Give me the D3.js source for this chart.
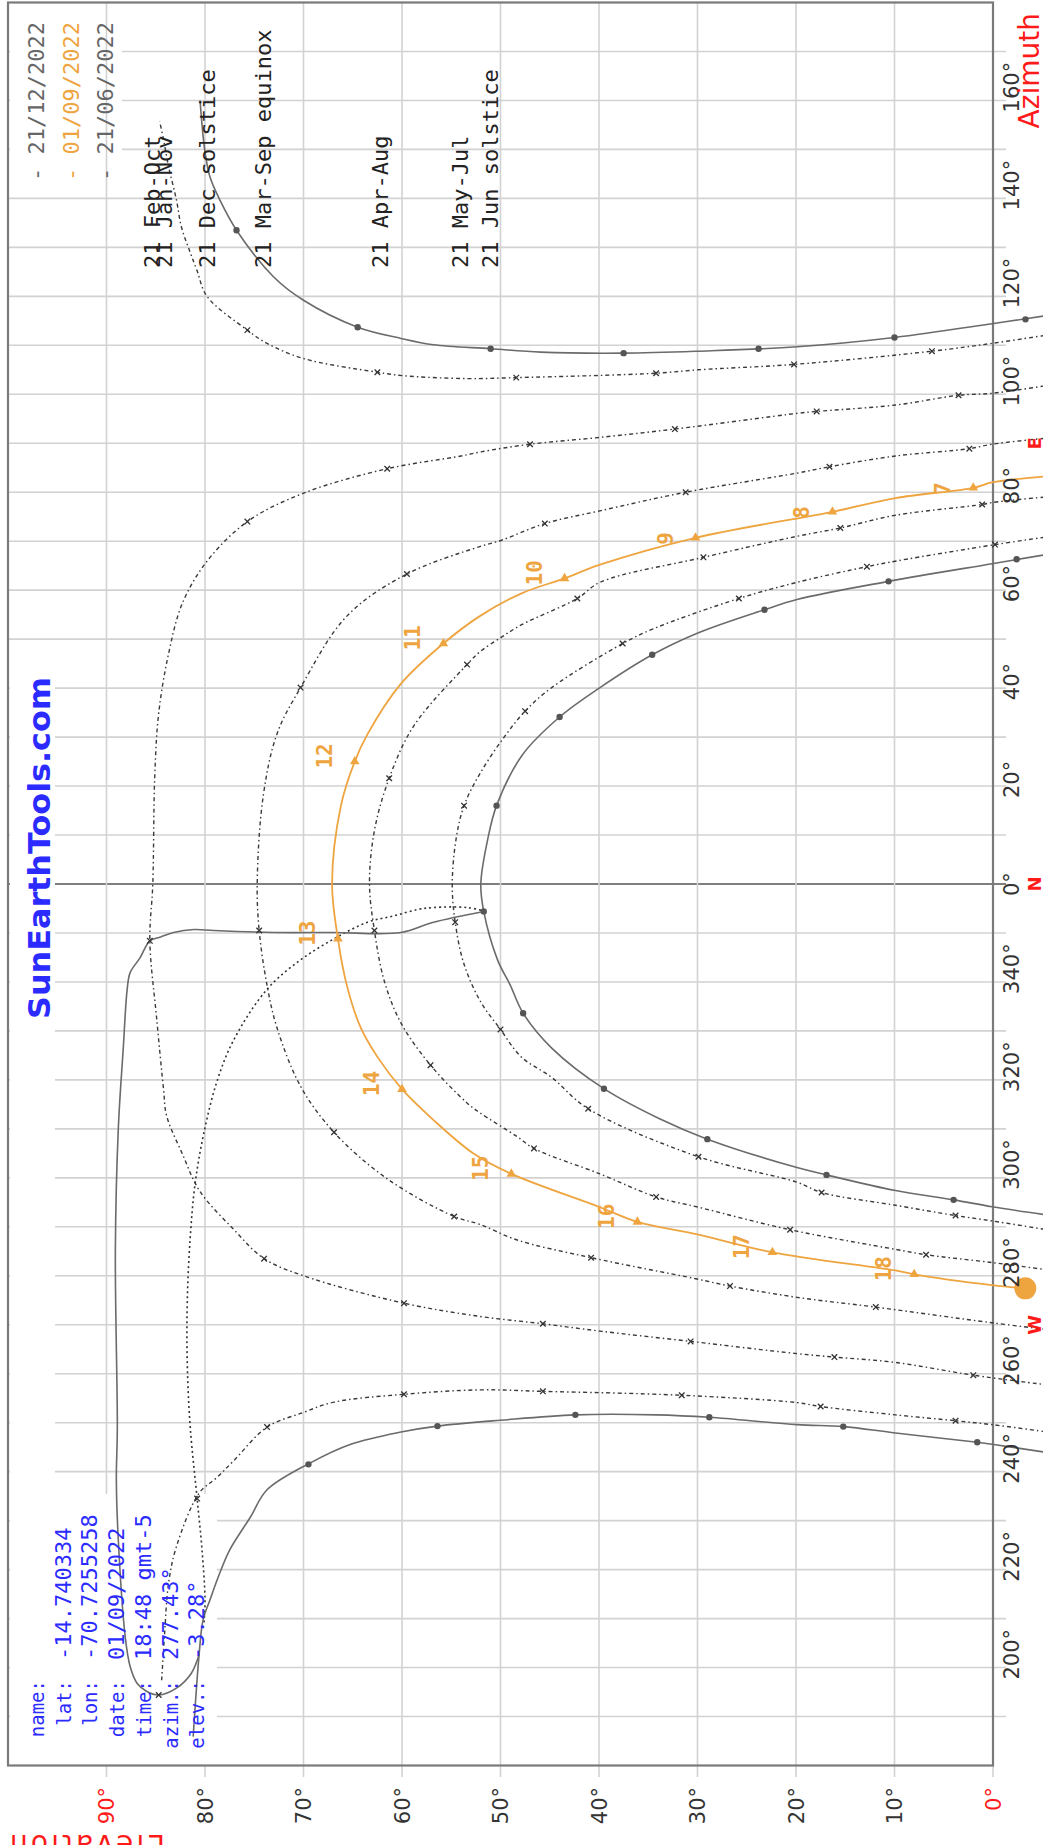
<!DOCTYPE html>
<html>
<head>
<meta charset="utf-8">
<script src="https://cdn.jsdelivr.net/npm/d3@7"></script>
<style>
  html, body { margin: 0; padding: 0; background: #fff; overflow: hidden; }
  svg { display: block; }
</style>
</head>
<body>
<svg id="chart" width="1043" height="1845"></svg>
<script>
// sun paths as [azimuth, elevation] in degrees
const decMorning = [[116.0,-5.2],[114.4,0.1],[111.6,10.0],[109.7,19.9],[108.8,29.9],[108.4,37.5],[108.6,45.9],[109.3,51.0],[110.1,56.8],[111.4,60.1],[113.7,64.5],[119.2,70.0],[123.9,73.0],[133.5,76.8],[139.7,78.5],[144.4,79.5],[149.5,80.0],[155.0,80.3],[160.0,80.5]];
const decAfternoon = [[185.9,81.2],[202.6,80.6],[209.7,80.2],[213.8,79.5],[219.3,78.5],[224.0,77.5],[230.7,75.4],[236.3,73.7],[241.8,69.3],[245.6,65.2],[248.1,60.1],[249.3,56.4],[250.5,50.0],[251.6,42.4],[251.6,34.2],[251.1,28.8],[249.6,19.9],[249.2,15.2],[247.9,9.9],[246.0,1.6],[245.6,0.1],[244.0,-5.2]];
const janMorning = [[112.0,-5.2],[110.4,0.1],[108.8,6.2],[106.1,20.2],[105.0,29.9],[104.3,34.2],[103.4,48.4],[103.2,53.4],[103.8,59.9],[104.5,62.5],[107.3,70.0],[110.4,73.7],[113.1,75.7],[120.0,79.8],[125.2,80.8],[129.5,81.6],[134.2,82.4],[139.7,82.9],[146.5,83.7],[151.9,84.2],[155.7,84.6]];
const janAfternoon = [[197.4,84.4],[207.0,84.1],[217.2,83.7],[224.7,82.9],[235.6,80.6],[238.8,78.8],[242.2,77.1],[249.1,73.7],[252.1,70.0],[254.2,66.9],[255.8,59.8],[256.7,52.1],[256.4,45.7],[255.6,31.6],[254.1,19.9],[253.3,17.5],[251.6,9.9],[250.4,3.8],[249.6,0.1],[248.2,-5.2]];
const febPath = [[101.7,-5.2],[100.2,0.1],[99.8,3.5],[97.8,9.9],[96.5,17.9],[96.1,19.9],[92.9,32.3],[91.2,39.9],[89.8,47.0],[88.2,52.1],[87.4,54.0],[84.8,61.5],[79.8,70.0],[74.0,75.7],[65.9,79.8],[57.3,82.3],[47.0,83.7],[34.9,84.7],[22.1,85.1],[0,85.3],[348.4,85.6],[332.4,84.9],[317.9,84.2],[312.7,83.9],[304.9,82.3],[297.2,80.5],[289.5,77.1],[283.5,74.0],[280.0,70.0],[274.4,59.8],[271.7,52.1],[270.2,45.7],[268.7,39.9],[266.6,30.7],[264.1,19.9],[263.4,16.1],[262.3,9.9],[259.7,2.0],[257.8,-5.2]];
const marPath = [[91.0,-5.2],[89.8,0.1],[88.9,2.4],[87.4,9.9],[85.2,16.6],[83.9,19.9],[80.0,31.2],[76.2,39.9],[73.6,45.5],[70.2,49.9],[68.9,52.1],[63.3,59.5],[54.7,65.6],[40.1,70.3],[30.6,72.7],[17.8,74.1],[0,74.7],[350.5,74.5],[339.3,73.7],[330.7,72.7],[318.7,70.3],[309.3,66.9],[299.8,61.5],[292.1,54.7],[290.5,52.1],[287.3,48.3],[283.7,40.8],[279.4,30.2],[277.9,26.7],[275.6,19.9],[273.6,11.9],[270.4,0.1],[269.1,-5.2]];
const aprPath = [[79.0,-5.2],[77.9,0.1],[77.5,1.1],[75.3,9.9],[72.7,15.5],[71.0,19.9],[66.7,29.4],[61.6,39.9],[58.3,42.2],[53.0,47.8],[50.4,49.9],[47.4,52.1],[44.8,53.4],[32.3,58.8],[21.6,61.3],[10.9,62.8],[0,63.3],[350.5,62.8],[340.2,61.8],[331.6,60.1],[323.0,57.1],[315.3,53.4],[313.3,52.1],[308.4,48.3],[306.0,46.6],[300.8,39.9],[296.1,34.2],[294.0,29.9],[289.4,20.6],[285.4,9.9],[284.3,6.8],[282.7,0.1],[281.3,-5.2]];
const mayPath = [[70.8,-5.2],[69.3,-0.2],[66.0,9.7],[64.8,12.8],[61.6,19.9],[58.3,25.8],[52.1,34.5],[49.1,37.6],[40.1,44.8],[35.3,47.5],[29.8,49.7],[22.5,52.1],[16.0,53.7],[9.3,54.5],[0,54.9],[352.2,54.6],[343.6,53.7],[335.9,52.0],[330.3,50.0],[324.7,47.9],[320.5,44.8],[314.1,41.1],[304.3,29.9],[299.1,19.9],[297.0,17.4],[294.4,9.9],[292.3,3.8],[291.2,0.1],[289.5,-5.2]];
const junPath = [[67.2,-5.2],[65.4,0.1],[61.8,10.6],[58.1,19.9],[56.0,23.2],[51.3,29.9],[46.8,34.6],[40.1,39.9],[34.1,44.0],[26.3,47.8],[16.0,50.4],[9.1,51.3],[0,52.0],[354.4,51.7],[344.5,50.3],[339.3,49.0],[333.6,47.7],[326.5,44.8],[318.2,39.5],[312.0,33.8],[307.9,29.0],[302.1,19.9],[300.6,16.9],[297.4,9.9],[295.5,4.0],[294.1,0.1],[292.5,-5.2]];
const sepPath = [[83.2,-5.2],[82.0,0.1],[80.9,2.0],[78.8,9.9],[76.0,16.3],[70.7,30.2],[65.2,39.9],[62.4,43.5],[59.4,47.8],[54.7,52.1],[49.1,55.8],[40.9,60.1],[30.6,63.5],[25.0,64.8],[16.0,66.2],[0,67.1],[348.8,66.5],[339.3,65.6],[330.7,64.2],[324.7,62.5],[318.1,60.0],[311.8,56.8],[304.9,52.7],[300.8,48.9],[294.0,39.9],[291.0,36.1],[288.4,29.9],[284.8,22.4],[281.1,9.9],[280.3,8.0],[278.1,0.1],[277.43,-3.28]];

// the 13:00 analemma, first half of the year solid, second half dotted
const analemmaSolid = [[354.4,51.7],[352.2,56.8],[350.1,60.1],[350.1,66.9],[350.1,73.0],[350.5,79.1],[350.7,81.1],[350.1,83.2],[349.2,84.5],[348.4,85.6],[344.9,86.6],[341.9,87.6],[338.5,87.9],[326.4,88.3],[310.1,88.8],[285.2,89.1],[249.1,88.9],[238.3,89.0],[226.0,88.8],[206.3,88.1],[200.2,87.6],[196.8,86.9],[195.1,85.9],[194.4,84.7],[195.8,82.9],[198.8,81.4],[202.6,80.6]];
const analemmaDotted = [[354.4,51.5],[355.2,53.4],[355.2,56.8],[354.8,58.4],[353.5,60.8],[352.2,63.5],[348.8,66.9],[344.5,70.3],[338.5,73.7],[328.1,77.1],[319.6,78.8],[309.3,80.1],[298.9,81.0],[287.8,81.5],[274.8,81.8],[262.0,81.8],[249.1,81.5],[234.5,80.8],[224.0,80.3],[213.8,80.0],[209.1,80.1]];

// hourly marks on the paths, [azimuth, elevation]
const decMarks = [[115.3,-3.3],[111.6,10.0],[109.3,23.8],[108.4,37.5],[109.3,51.0],[113.7,64.5],[133.5,76.8],[241.5,69.5],[249.3,56.4],[251.6,42.4],[251.1,28.8],[249.2,15.2],[246.0,1.6]];
const junMarks = [[66.3,-2.4],[61.8,10.6],[56.0,23.2],[46.8,34.6],[34.1,44.0],[16.0,50.4],[354.4,51.7],[333.6,47.7],[318.2,39.5],[307.9,29.0],[300.6,16.9],[295.5,4.0]];
const janMarks = [[108.8,6.2],[106.1,20.2],[104.3,34.2],[103.4,48.4],[104.5,62.5],[113.1,75.7],[194.4,84.7],[234.5,80.8],[249.1,73.7],[255.8,59.8],[256.4,45.7],[255.6,31.6],[253.3,17.5],[250.4,3.8]];
const febMarks = [[99.8,3.5],[96.5,17.9],[92.9,32.3],[89.8,47.0],[84.8,61.5],[74.0,75.7],[348.4,85.6],[283.5,74.0],[274.4,59.8],[270.2,45.7],[266.6,30.7],[263.4,16.1],[259.7,2.0]];
const marMarks = [[88.9,2.4],[85.2,16.6],[80.0,31.2],[73.6,45.5],[63.3,59.5],[40.1,70.3],[350.5,74.5],[309.3,66.9],[292.1,54.7],[283.7,40.8],[277.9,26.7],[273.6,11.9]];
const aprMarks = [[77.5,1.1],[72.7,15.5],[66.7,29.4],[58.3,42.2],[44.8,53.4],[21.6,61.3],[350.5,62.8],[323.0,57.1],[306.0,46.6],[296.1,34.2],[289.4,20.6],[284.3,6.8]];
const mayMarks = [[69.3,-0.2],[64.8,12.8],[58.3,25.8],[49.1,37.6],[35.3,47.5],[16.0,53.7],[352.2,54.6],[330.3,50.0],[314.1,41.1],[304.3,29.9],[297.0,17.4],[292.3,3.8]];
// selected day: [hour, azimuth, elevation]
const sepMarks = [[7,80.9,2.0],[8,76.0,16.3],[9,70.7,30.2],[10,62.4,43.5],[11,49.1,55.8],[12,25.0,64.8],[13,348.8,66.5],[14,318.1,60.0],[15,300.8,48.9],[16,291.0,36.1],[17,284.8,22.4],[18,280.3,8.0]];
const sunNow = [277.43, -3.28];

// axes and texts
const azTicks = [200, 220, 240, 260, 280, 300, 320, 340, 360, 380, 400, 420, 440, 460, 480, 500, 520];
const elTicks = [0, 10, 20, 30, 40, 50, 60, 70, 80, 90];
const cardinals = [["W", 270], ["N", 360], ["E", 450]];
const legendItems = [["- 21/12/2022", "#666"], ["- 01/09/2022", "#eea43f"], ["- 21/06/2022", "#666"]];
const pathLabels = [["21 Jan-Nov", 84.2], ["21 Feb-Oct", 85.4], ["21 Dec solstice", 79.8], ["21 Mar-Sep equinox", 74.1], ["21 Apr-Aug", 62.2], ["21 May-Jul", 54.1], ["21 Jun solstice", 51.1]];
const infoKeys = ["name:", "lat:", "lon:", "date:", "time:", "azim.:", "elev.:"];
const infoValues = ["", "-14.740334", "-70.7255258", "01/09/2022", "18:48 gmt-5", "277.43°", "-3.28°"];

const W = 1043, H = 1845;
const ORANGE = "#eea43f", GRAY = "#6b6b6b", BLUE = "#2b2bff", RED = "#ff1a1a";
const svg = d3.select("#chart");

// the chart is built in its landscape layout and turned a quarter to the left
const g = svg.append("g").attr("transform", `translate(0,${H}) rotate(-90)`);
const x = d3.scaleLinear().domain([180, 540]).range([79.5, 1842.5]);
const y = d3.scaleLinear().domain([0, 100]).range([993, 8]);
const unwrap = az => (az < 180 ? az + 360 : az);

const line = d3.line()
  .x(d => x(unwrap(d[0])))
  .y(d => y(d[1]))
  .curve(d3.curveCatmullRom.alpha(0.5));

// azimuth grid
g.append("g").selectAll("line")
  .data(d3.range(190, 540, 10))
  .join("line")
  .attr("x1", d => x(d)).attr("x2", d => x(d))
  .attr("y1", 1006).attr("y2", y(100))
  .attr("stroke", d => (d === 360 ? "#555" : "#d2d2d2"))
  .attr("stroke-width", 1.6);

// boxes behind the legend and the watermark
g.append("rect").attr("x", 1657).attr("y", 10).attr("width", 184).attr("height", 112).attr("fill", "#fff");
g.append("rect").attr("x", 351).attr("y", 10).attr("width", 834).attr("height", 45).attr("fill", "#fff");

// elevation grid
g.append("g").selectAll("line")
  .data(d3.range(10, 100, 10))
  .join("line")
  .attr("x1", 68).attr("x2", x(540))
  .attr("y1", d => y(d)).attr("y2", d => y(d))
  .attr("stroke", "#d2d2d2")
  .attr("stroke-width", 1.6);
g.append("line")
  .attr("x1", 68).attr("x2", x(180))
  .attr("y1", y(0)).attr("y2", y(0))
  .attr("stroke", "#d2d2d2").attr("stroke-width", 1.6);

// box behind the info text
g.append("rect").attr("x", 79).attr("y", 10).attr("width", 272).attr("height", 207).attr("fill", "#fff");

// frame
g.append("rect")
  .attr("x", x(180)).attr("y", y(100))
  .attr("width", x(540) - x(180)).attr("height", y(0) - y(100))
  .attr("fill", "none").attr("stroke", "#7a7a7a").attr("stroke-width", 2.2);

// monthly paths
g.append("g").selectAll("path")
  .data([janMorning, janAfternoon, febPath, marPath, aprPath, mayPath])
  .join("path")
  .attr("d", line)
  .attr("fill", "none")
  .attr("stroke", "#3a3a3a")
  .attr("stroke-width", 1.4)
  .attr("stroke-dasharray", "4,3,1.5,3");

g.append("path").attr("d", line(analemmaDotted))
  .attr("fill", "none").attr("stroke", "#333").attr("stroke-width", 1.6)
  .attr("stroke-dasharray", "2,3");

g.append("g").selectAll("path")
  .data([decMorning, decAfternoon, junPath, analemmaSolid])
  .join("path")
  .attr("d", line)
  .attr("fill", "none")
  .attr("stroke", GRAY)
  .attr("stroke-width", 1.6);

g.append("path").attr("d", line(sepPath))
  .attr("fill", "none").attr("stroke", ORANGE).attr("stroke-width", 1.8);

// hourly marks
const crossSym = d3.symbol(d3.symbolX, 22);
g.append("g").selectAll("path")
  .data([].concat(janMarks, febMarks, marMarks, aprMarks, mayMarks))
  .join("path")
  .attr("d", crossSym)
  .attr("transform", d => `translate(${x(unwrap(d[0]))},${y(d[1])})`)
  .attr("fill", "none").attr("stroke", "#333").attr("stroke-width", 1.3);

const dotSym = d3.symbol(d3.symbolCircle, 32);
g.append("g").selectAll("path")
  .data([].concat(decMarks, junMarks))
  .join("path")
  .attr("d", dotSym)
  .attr("transform", d => `translate(${x(unwrap(d[0]))},${y(d[1])})`)
  .attr("fill", "#555");

const triSym = d3.symbol(d3.symbolTriangle, 40);
g.append("g").selectAll("path")
  .data(sepMarks)
  .join("path")
  .attr("d", triSym)
  .attr("transform", d => `translate(${x(unwrap(d[1]))},${y(d[2])}) rotate(90)`)
  .attr("fill", ORANGE);

g.append("g").selectAll("text")
  .data(sepMarks)
  .join("text")
  .attr("x", d => x(unwrap(d[1])) - 7)
  .attr("y", d => y(d[2]) - 23)
  .attr("font-family", "DejaVu Sans Mono")
  .attr("font-weight", "bold")
  .attr("font-size", 21)
  .attr("fill", ORANGE)
  .text(d => d[0]);

g.append("circle")
  .attr("cx", x(unwrap(sunNow[0]))).attr("cy", y(sunNow[1])).attr("r", 11)
  .attr("fill", ORANGE);

// azimuth tick labels
g.append("g").selectAll("text")
  .data(azTicks)
  .join("text")
  .attr("x", d => x(d) - 12)
  .attr("y", 1019)
  .attr("font-family", "DejaVu Sans")
  .attr("font-size", 21)
  .attr("fill", "#333")
  .text(d => `${d % 360}°`);

g.append("g").selectAll("text")
  .data(cardinals)
  .join("text")
  .attr("x", d => x(d[1]))
  .attr("y", 1041)
  .attr("text-anchor", "middle")
  .attr("font-family", "DejaVu Sans")
  .attr("font-weight", "bold")
  .attr("font-size", 18)
  .attr("fill", RED)
  .text(d => d[0]);

// elevation tick labels
g.append("g").selectAll("text")
  .data(elTicks)
  .join("text")
  .attr("x", 58)
  .attr("y", d => y(d))
  .attr("dy", "0.36em")
  .attr("text-anchor", "end")
  .attr("font-family", "DejaVu Sans")
  .attr("font-size", 21)
  .attr("fill", d => (d === 0 || d === 90 ? RED : "#333"))
  .text(d => `${d}°`);

g.append("text")
  .attr("x", 1832).attr("y", 1039)
  .attr("text-anchor", "end")
  .attr("font-family", "DejaVu Sans")
  .attr("font-size", 28)
  .attr("fill", RED)
  .text("Azimuth");

g.append("text")
  .attr("transform", "translate(10,165) rotate(-90)")
  .attr("font-family", "DejaVu Sans")
  .attr("font-size", 28)
  .attr("textLength", 155)
  .attr("fill", RED)
  .text("Elevation");

// legend
g.append("g").selectAll("text")
  .data(legendItems)
  .join("text")
  .attr("x", 1823)
  .attr("y", (d, i) => 44 + i * 34.5)
  .attr("text-anchor", "end")
  .attr("font-family", "DejaVu Sans Mono")
  .attr("font-size", 22)
  .attr("fill", d => d[1])
  .text(d => d[0]);

// path names
g.append("g").selectAll("text")
  .data(pathLabels)
  .join("text")
  .attr("x", 1577)
  .attr("y", d => y(d[1]) + 8)
  .attr("font-family", "DejaVu Sans Mono")
  .attr("font-size", 22)
  .attr("fill", "#222")
  .text(d => d[0]);

// watermark
g.append("text")
  .attr("x", 826).attr("y", 50)
  .attr("font-family", "DejaVu Sans")
  .attr("font-weight", "bold")
  .attr("font-size", 31)
  .attr("textLength", 342)
  .attr("lengthAdjust", "spacingAndGlyphs")
  .attr("fill", BLUE)
  .text("SunEarthTools.com");

// info block
const info = g.append("g").attr("font-family", "DejaVu Sans Mono").attr("fill", BLUE);
info.selectAll("text.k")
  .data(infoKeys)
  .join("text")
  .attr("class", "k")
  .attr("x", 165)
  .attr("y", (d, i) => 44 + i * 26.7)
  .attr("text-anchor", "end")
  .attr("font-size", 19)
  .text(d => d);
info.selectAll("text.v")
  .data(infoValues)
  .join("text")
  .attr("class", "v")
  .attr("x", 185)
  .attr("y", (d, i) => 44 + i * 26.7)
  .attr("font-size", 22)
  .text(d => d);
</script>
</body>
</html>
